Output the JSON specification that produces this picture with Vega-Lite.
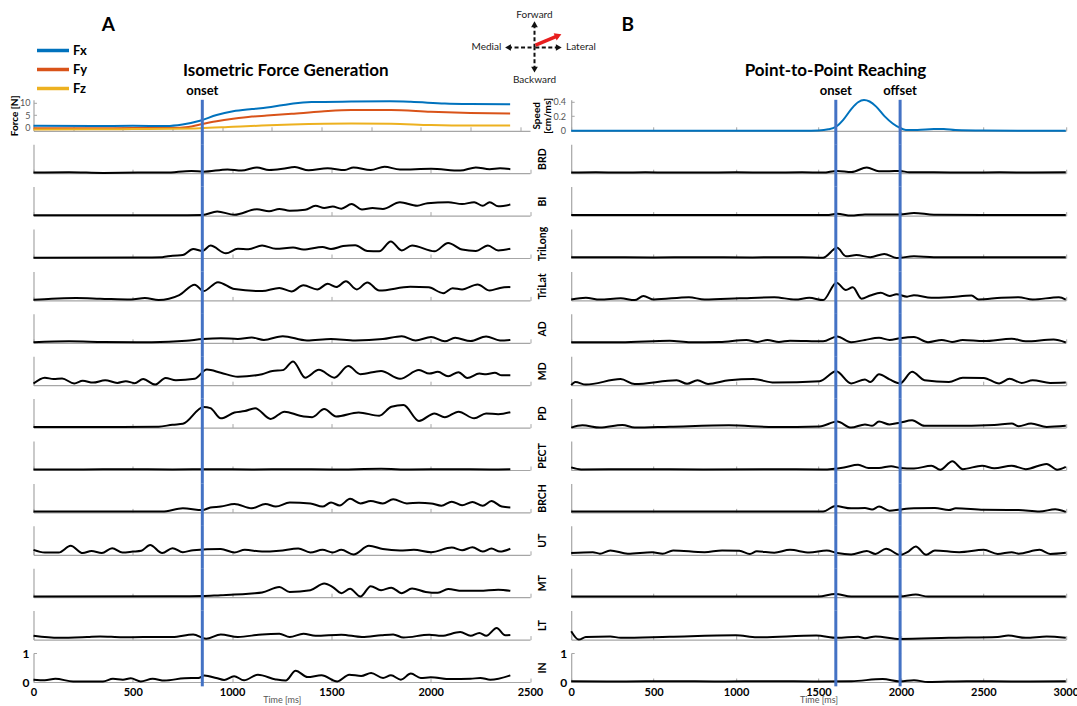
{
"$schema":"https://vega.github.io/schema/vega-lite/v6.json",
"background":"white",
"padding":{"left":9.5,"top":5,"right":0,"bottom":0},
"columns":2,
"bounds":"flush",
"spacing":{"row":13.4,"column":40.7},
"config":{"font":"Lato","view":{"stroke":null},"axis":{"grid":false,"domainColor":"#a6a6a6","tickColor":"#a6a6a6","domainWidth":1.2,"labelFont":"Lato","titleFont":"Lato","labelFlush":false,"labelOverlap":false},"title":{"font":"Lato","fontWeight":"bold","color":"#000"},"legend":{"labelFont":"Lato"}},
"datasets":{
"events":[{"s":"A","t":850,"label":"onset"},{"s":"B","t":1605,"label":"onset"},{"s":"B","t":1995,"label":"offset"}],
"arms":[{"dir":"up","x":0,"y":0.86},{"dir":"down","x":0,"y":-0.82},{"dir":"left","x":-0.98,"y":0},{"dir":"right","x":0.9,"y":0}],
"compassLabels":[{"label":"Forward","x":0,"y":1.2},{"label":"Backward","x":0,"y":-1.2},{"label":"Medial","x":-1.78,"y":0},{"label":"Lateral","x":1.72,"y":0}],
"move":[{"x":0.04,"y":0.09,"x2":0.88,"y2":0.44}],
"force":[
{"s":"Fx","t":[0,300,500,670,750,838,922,1005,1100,1175,1250,1308,1400,1600,1795,1900,2071,2200,2400],"v":[0.7,0.6,0.7,0.6,1.2,2.7,5.0,6.5,7.4,8.0,8.9,9.6,10.2,10.4,10.5,10.3,9.6,9.4,9.3]},
{"s":"Fy","t":[0,300,500,700,780,838,922,1005,1100,1175,1300,1450,1600,1800,2000,2200,2400],"v":[-0.3,-0.3,-0.2,-0.2,0.2,1.2,2.5,3.5,4.4,4.8,5.5,6.4,7.0,7.0,6.3,5.8,5.6]},
{"s":"Fz","t":[0,300,500,700,838,1005,1150,1300,1600,1800,2000,2200,2400],"v":[-0.8,-0.7,-0.6,-0.5,-0.3,0.3,0.8,1.2,1.6,1.5,1.0,0.8,0.8]}],
"speed":[{"t":[0,500,1000,1400,1500,1560,1605,1650,1700,1740,1776,1810,1850,1900,1950,1994,2030,2100,2200,2260,2330,2500,3000],"v":[0,0,0,0.002,0.005,0.02,0.055,0.15,0.3,0.39,0.42,0.4,0.33,0.2,0.1,0.04,0.012,0.012,0.025,0.025,0.01,0.003,0]}],
"emg":[
{"s":"A","m":"BRD","t":[0,179,352,526,665,795,856,977,1047,1125,1186,1255,1316,1385,1481,1568,1611,1698,1767,1845,2002,2149,2227,2297,2349,2401],"v":[0.02,0.035,0.01,0.02,0.02,0.08,0.05,0.13,0.09,0.2,0.11,0.15,0.21,0.1,0.17,0.11,0.2,0.11,0.22,0.13,0.15,0.09,0.2,0.14,0.17,0.14]},
{"s":"A","m":"BI","t":[0,352,700,851,925,1012,1125,1186,1238,1290,1368,1420,1464,1507,1550,1602,1654,1707,1759,1845,1932,1984,2088,2158,2219,2262,2297,2340,2401],"v":[0.01,0.01,0.01,0.02,0.14,0.03,0.22,0.15,0.23,0.17,0.2,0.34,0.26,0.31,0.24,0.4,0.21,0.26,0.23,0.46,0.34,0.43,0.46,0.4,0.46,0.34,0.46,0.32,0.38]},
{"s":"A","m":"TriLong","t":[0,526,648,700,752,804,851,891,969,1029,1082,1151,1220,1307,1359,1455,1498,1559,1620,1681,1741,1799,1854,1906,2019,2088,2158,2227,2288,2340,2401],"v":[0.01,0.02,0.03,0.08,0.1,0.31,0.24,0.43,0.16,0.32,0.3,0.43,0.32,0.36,0.29,0.38,0.31,0.41,0.44,0.24,0.23,0.57,0.26,0.43,0.23,0.52,0.29,0.24,0.43,0.26,0.32]},
{"s":"A","m":"TriLat","t":[0,92,214,335,491,561,630,734,812,856,929,1012,1151,1238,1299,1359,1429,1481,1524,1573,1628,1681,1741,1897,1990,2063,2110,2158,2236,2297,2349,2401],"v":[0.02,0.06,0.08,0.06,0.03,0.08,0.01,0.18,0.54,0.32,0.63,0.39,0.32,0.43,0.31,0.52,0.38,0.57,0.46,0.66,0.38,0.62,0.34,0.47,0.45,0.25,0.42,0.38,0.55,0.34,0.43,0.46]},
{"s":"A","m":"AD","t":[0,179,352,595,769,851,943,1029,1099,1160,1255,1377,1498,1620,1759,1854,1924,2002,2071,2123,2201,2279,2349,2401],"v":[0.02,0.05,0.03,0.02,0.07,0.13,0.16,0.13,0.18,0.1,0.23,0.08,0.13,0.08,0.13,0.23,0.08,0.2,0.05,0.17,0.06,0.22,0.08,0.1]},
{"s":"A","m":"MD","t":[0,57,101,144,205,248,300,361,422,465,509,552,613,665,717,812,873,943,1029,1151,1203,1255,1307,1368,1437,1515,1585,1646,1750,1845,1941,1993,2036,2088,2140,2184,2245,2279,2323,2358,2401],"v":[0.06,0.26,0.21,0.23,0.06,0.15,0.09,0.17,0.08,0.14,0.07,0.21,0.02,0.25,0.17,0.22,0.54,0.43,0.29,0.38,0.49,0.52,0.82,0.26,0.53,0.26,0.66,0.38,0.49,0.22,0.52,0.4,0.46,0.31,0.45,0.25,0.4,0.38,0.43,0.34,0.34]},
{"s":"A","m":"PD","t":[0,352,630,700,752,856,891,943,1012,1064,1116,1194,1264,1342,1403,1464,1524,1637,1741,1802,1863,1941,2019,2071,2140,2219,2279,2340,2401],"v":[0.02,0.02,0.03,0.1,0.13,0.71,0.67,0.32,0.52,0.57,0.67,0.3,0.55,0.41,0.36,0.64,0.38,0.52,0.41,0.72,0.78,0.23,0.49,0.36,0.55,0.32,0.49,0.46,0.53]},
{"s":"A","m":"PECT","t":[0,250,450,700,900,1100,1300,1500,1750,1900,2100,2300,2401],"v":[0.02,0.02,0.03,0.02,0.03,0.02,0.03,0.02,0.04,0.02,0.03,0.02,0.03]},
{"s":"A","m":"BRCH","t":[0,352,648,752,851,891,943,1012,1099,1168,1220,1290,1394,1455,1498,1542,1594,1646,1698,1759,1811,1880,1941,2002,2054,2106,2158,2210,2262,2306,2358,2401],"v":[0.03,0.03,0.03,0.14,0.08,0.17,0.2,0.29,0.14,0.29,0.2,0.34,0.31,0.2,0.34,0.24,0.47,0.31,0.39,0.31,0.45,0.31,0.33,0.31,0.23,0.37,0.25,0.36,0.23,0.39,0.2,0.17]},
{"s":"A","m":"UT","t":[0,57,127,187,248,292,344,396,448,500,543,587,648,700,752,804,943,1012,1064,1151,1238,1333,1394,1455,1507,1550,1611,1689,1759,1845,1915,2002,2106,2158,2210,2262,2306,2349,2401],"v":[0.17,0.08,0.08,0.31,0.06,0.13,0.06,0.23,0.08,0.11,0.14,0.34,0.06,0.23,0.09,0.16,0.2,0.08,0.17,0.11,0.14,0.22,0.08,0.17,0.08,0.17,0.01,0.31,0.2,0.15,0.17,0.09,0.25,0.16,0.26,0.11,0.22,0.11,0.21]},
{"s":"A","m":"MT","t":[0,700,851,943,1012,1099,1151,1238,1290,1394,1464,1507,1550,1594,1646,1698,1750,1802,1854,1906,1975,2036,2088,2158,2245,2340,2401],"v":[0.02,0.03,0.04,0.07,0.09,0.13,0.16,0.35,0.18,0.24,0.47,0.35,0.14,0.29,0.02,0.38,0.24,0.33,0.14,0.3,0.18,0.15,0.28,0.22,0.22,0.26,0.22]},
{"s":"A","m":"LT","t":[0,127,270,335,448,552,700,804,869,943,1029,1151,1238,1290,1359,1420,1550,1654,1750,1811,1863,1993,2054,2149,2201,2245,2280,2332,2375,2401],"v":[0.13,0.06,0.09,0.11,0.08,0.09,0.09,0.18,0.03,0.18,0.09,0.18,0.2,0.09,0.2,0.13,0.17,0.09,0.15,0.18,0.07,0.17,0.13,0.26,0.13,0.23,0.13,0.4,0.15,0.16]},
{"s":"A","m":"IN","t":[0,57,110,200,350,400,450,490,540,600,660,760,830,860,920,960,1010,1060,1130,1220,1270,1320,1380,1450,1530,1590,1650,1700,1760,1800,1850,1900,1950,2000,2100,2200,2250,2300,2401],"v":[0.08,0.06,0.11,0.02,0.02,0.11,0.08,0.13,0.02,0.11,0.05,0.13,0.14,0.22,0.14,0.07,0.2,0.06,0.25,0.09,0.05,0.39,0.17,0.23,0.02,0.25,0.21,0.31,0.14,0.23,0.08,0.29,0.14,0.16,0.1,0.11,0.14,0.08,0.23]},
{"s":"B","m":"BRD","t":[0,150,300,450,600,800,1000,1200,1400,1528,1613,1700,1793,1867,1930,1994,2050,2200,2400,2600,2800,3000],"v":[0.02,0.03,0.02,0.03,0.02,0.025,0.03,0.02,0.03,0.02,0.08,0.04,0.2,0.07,0.07,0.08,0.03,0.03,0.02,0.03,0.02,0.03]},
{"s":"B","m":"BI","t":[0,300,700,1000,1300,1550,1613,1698,1782,1900,1994,2079,2200,2500,3000],"v":[0.02,0.02,0.02,0.02,0.02,0.02,0.06,0.0,0.04,0.04,0.04,0.09,0.03,0.02,0.02]},
{"s":"B","m":"TriLong","t":[0,200,500,800,1100,1400,1528,1613,1666,1730,1814,1899,1973,2079,2200,2500,2800,3000],"v":[0.03,0.03,0.02,0.03,0.02,0.03,0.01,0.35,0.06,0.1,0.03,0.14,0.0,0.06,0.03,0.03,0.03,0.03]},
{"s":"B","m":"TriLat","t":[0,89,174,300,385,438,502,714,809,1020,1232,1359,1444,1528,1609,1666,1708,1761,1814,1878,1931,1973,2037,2079,2185,2291,2428,2471,2608,2714,2799,2958,3000],"v":[0.03,0.09,0.03,0.07,0.01,0.15,0.03,0.11,0.03,0.07,0.11,0.03,0.09,0.01,0.61,0.36,0.45,0.06,0.17,0.26,0.15,0.21,0.13,0.18,0.09,0.11,0.17,0.03,0.09,0.11,0.03,0.11,0.03]},
{"s":"B","m":"AD","t":[0,300,597,724,900,1063,1130,1190,1260,1327,1528,1613,1698,1782,1867,1931,1994,2079,2164,2248,2310,2375,2502,2672,2757,2926,3000],"v":[0.02,0.02,0.07,0.02,0.03,0.1,0.03,0.1,0.03,0.07,0.05,0.22,0.02,0.1,0.17,0.1,0.16,0.2,0.02,0.1,0.03,0.1,0.06,0.14,0.05,0.11,0.01]},
{"s":"B","m":"MD","t":[0,25,89,300,385,640,703,766,830,957,1105,1232,1507,1607,1698,1782,1814,1867,1931,1994,2068,2143,2291,2375,2502,2596,2659,2733,2799,2905,3000],"v":[0.0,0.11,0.02,0.21,0.04,0.17,0.05,0.17,0.04,0.17,0.21,0.09,0.14,0.48,0.06,0.2,0.11,0.38,0.2,0.06,0.46,0.17,0.11,0.26,0.25,0.06,0.22,0.08,0.17,0.08,0.09]},
{"s":"B","m":"PD","t":[0,68,174,311,385,597,957,1232,1507,1613,1698,1782,1825,1867,1931,1994,2068,2143,2291,2566,2672,2714,2789,2884,3000],"v":[0.0,0.08,0.0,0.09,0.0,0.03,0.08,0.02,0.04,0.21,0.0,0.11,0.06,0.21,0.11,0.17,0.25,0.06,0.06,0.09,0.14,0.05,0.14,0.02,0.06]},
{"s":"B","m":"PECT","t":[0,60,400,800,1200,1528,1655,1740,1803,1867,1941,1994,2079,2185,2238,2312,2375,2492,2566,2672,2757,2884,2947,3000],"v":[0.09,0.02,0.03,0.02,0.03,0.02,0.09,0.18,0.07,0.07,0.13,0.07,0.05,0.15,0.01,0.3,0.03,0.15,0.06,0.15,0.03,0.21,0.01,0.11]},
{"s":"B","m":"BRCH","t":[0,500,1000,1300,1528,1602,1698,1782,1825,1867,1931,1994,2079,2206,2291,2333,2502,2714,2841,2936,3000],"v":[0.03,0.03,0.03,0.03,0.03,0.22,0.14,0.15,0.1,0.2,0.06,0.1,0.14,0.15,0.08,0.14,0.09,0.08,0.03,0.11,0.02]},
{"s":"B","m":"UT","t":[0,131,174,237,343,491,555,618,809,915,1020,1084,1126,1232,1327,1444,1550,1613,1698,1793,1846,1910,1994,2047,2090,2153,2206,2354,2502,2587,2672,2714,2841,2905,3000],"v":[0.06,0.09,0.04,0.15,0.04,0.09,0.04,0.15,0.09,0.15,0.14,0.03,0.12,0.07,0.17,0.08,0.15,0.06,0.01,0.13,0.03,0.21,0.0,0.12,0.29,0.0,0.15,0.09,0.17,0.03,0.09,0.04,0.17,0.03,0.07]},
{"s":"B","m":"MT","t":[0,500,1000,1500,1602,1698,1994,2090,2164,2500,3000],"v":[0.02,0.02,0.02,0.02,0.11,0.02,0.02,0.09,0.02,0.02,0.02]},
{"s":"B","m":"LT","t":[0,46,89,237,300,597,999,1126,1486,1613,1740,1782,1846,1994,2291,2587,2651,2757,2884,3000],"v":[0.29,0.0,0.09,0.11,0.06,0.1,0.15,0.08,0.14,0.06,0.1,0.05,0.11,0.02,0.06,0.09,0.14,0.06,0.11,0.06]},
{"s":"B","m":"IN","t":[0,300,600,900,1200,1500,1700,1889,1994,2079,2164,2400,2700,3000],"v":[0.03,0.02,0.03,0.02,0.03,0.02,0.03,0.1,0.02,0.06,0.0,0.03,0.02,0.03]}
]},
"concat":[
{"width":496.5,"height":66.2,
 "title":{"text":"A","anchor":"start","frame":"group","dx":68.2,"fontSize":19,"offset":-45.3,"baseline":"alphabetic"},
 "encoding":{"x":{"field":"x","type":"quantitative","scale":{"domain":[-18.556,-0.1667],"nice":false,"zero":false},"axis":null},
             "y":{"field":"y","type":"quantitative","scale":{"domain":[-0.878,1.574],"nice":false,"zero":false},"axis":null}},
 "layer":[
  {"data":{"name":"arms"},"mark":{"type":"rule","color":"#111","strokeWidth":2,"strokeDash":[4,2.5]},"encoding":{"x2":{"datum":0},"y2":{"datum":0}}},
  {"data":{"name":"arms"},"mark":{"type":"point","filled":true,"color":"#111","size":45,"opacity":1},"encoding":{"shape":{"field":"dir","type":"nominal","scale":{"domain":["up","down","left","right"],"range":["triangle-up","triangle-down","triangle-left","triangle-right"]},"legend":null}}},
  {"data":{"name":"compassLabels"},"mark":{"type":"text","font":"Lato","fontSize":10,"color":"#222","baseline":"middle"},"encoding":{"text":{"field":"label"}}},
  {"data":{"name":"move"},"mark":{"type":"rule","color":"#E81E1E","strokeWidth":3.5},"encoding":{"x2":{"field":"x2"},"y2":{"field":"y2"}}},
  {"data":{"name":"move"},"mark":{"type":"point","shape":"triangle-up","angle":67.4,"filled":true,"color":"#E81E1E","size":60,"opacity":1},"encoding":{"x":{"field":"x2","type":"quantitative","scale":{"domain":[-18.556,-0.1667],"nice":false,"zero":false},"axis":null},"y":{"field":"y2","type":"quantitative","scale":{"domain":[-0.878,1.574],"nice":false,"zero":false},"axis":null}}}
 ]},
{"width":494.6,"height":66.2,"data":{"values":[]},"mark":"point",
 "title":{"text":"B","anchor":"start","frame":"group","dx":50.3,"fontSize":19,"offset":-45.3,"baseline":"alphabetic"}},
{"width":496.5,"height":1,"data":{"values":[]},"mark":"point",
 "title":{"text":"Isometric Force Generation","anchor":"middle","frame":"group","dx":4,"fontSize":17,"offset":-7.7,"baseline":"alphabetic"}},
{"width":494.6,"height":1,"data":{"values":[]},"mark":"point",
 "title":{"text":"Point-to-Point Reaching","anchor":"middle","frame":"group","dx":17,"fontSize":17,"offset":-7.7,"baseline":"alphabetic"}},
{"width":496.5,"height":31,
 "encoding":{"x":{"field":"t","type":"quantitative","scale":{"domain":[0,2500],"nice":false},"axis":{"values":[200,450,700,950,1200,1450,1700,1950,2200,2450],"labels":false,"tickSize":-4,"title":null}}},
 "layer":[
  {"data":{"name":"force"},"transform":[{"flatten":["t","v"]}],"mark":{"type":"line","interpolate":"monotone","strokeWidth":2},
   "encoding":{"y":{"field":"v","type":"quantitative","scale":{"domain":[-1.3,11.1],"nice":false,"zero":false},"axis":{"values":[0,5,10],"labelOverlap":false,"tickSize":-3,"labelPadding":6.5,"labelFontSize":9,"labelColor":"#555","title":"Force [N]","titleX":-19,"titleY":15.5,"titleAngle":-90,"titleBaseline":"middle","titleAlign":"center","titleFontSize":10,"titleFontWeight":"bold","titleColor":"#000"}},
    "color":{"field":"s","type":"nominal","scale":{"domain":["Fx","Fy","Fz"],"range":["#0072BD","#D95319","#EDB120"]},
     "legend":{"orient":"none","legendX":12.5,"legendY":38.5,"title":null,"symbolType":"M-3.2,0L3.2,0","symbolSize":100,"symbolStrokeWidth":3.5,"labelFontSize":13,"labelFontWeight":"bold","labelColor":"#000","labelOffset":13,"rowPadding":5,"padding":0}}}},
  {"data":{"name":"events"},"transform":[{"filter":"datum.s=='A'"}],"mark":{"type":"rule","color":"#4472C4","strokeWidth":3},"encoding":{"y":{"datum":11.1,"scale":{"domain":[-1.3,11.1],"nice":false,"zero":false},"axis":{"values":[0,5,10],"labelOverlap":false,"tickSize":-3,"labelPadding":6.5,"labelFontSize":9,"labelColor":"#555","title":"Force [N]","titleX":-19,"titleY":15.5,"titleAngle":-90,"titleBaseline":"middle","titleAlign":"center","titleFontSize":10,"titleFontWeight":"bold","titleColor":"#000"}},"y2":{"datum":-6.7}}},
  {"data":{"name":"events"},"transform":[{"filter":"datum.s=='A'"}],"mark":{"type":"text","font":"Lato","fontWeight":"bold","fontSize":13,"baseline":"alphabetic","dy":-5,"color":"#000"},"encoding":{"y":{"datum":11.1,"scale":{"domain":[-1.3,11.1],"nice":false,"zero":false},"axis":{"values":[0,5,10],"labelOverlap":false,"tickSize":-3,"labelPadding":6.5,"labelFontSize":9,"labelColor":"#555","title":"Force [N]","titleX":-19,"titleY":15.5,"titleAngle":-90,"titleBaseline":"middle","titleAlign":"center","titleFontSize":10,"titleFontWeight":"bold","titleColor":"#000"}},"text":{"field":"label"}}}
 ]},
{"width":494.6,"height":31,
 "encoding":{"x":{"field":"t","type":"quantitative","scale":{"domain":[0,3000],"nice":false},"axis":{"values":[0,500,1000,1500,2000,2500,3000],"labels":false,"tickSize":-4,"title":null}}},
 "layer":[
  {"data":{"name":"speed"},"transform":[{"flatten":["t","v"]}],"mark":{"type":"line","interpolate":"monotone","color":"#0072BD","strokeWidth":2},
   "encoding":{"y":{"field":"v","type":"quantitative","scale":{"domain":[0,0.423],"nice":false,"zero":false},"axis":{"values":[0,0.2,0.4],"format":"~g","labelOverlap":false,"tickSize":-3,"labelPadding":8.7,"labelFontSize":9,"labelColor":"#555","title":["Speed","[cm/ms]"],"titleX":-34.5,"titleY":15.5,"titleAngle":-90,"titleBaseline":"middle","titleAlign":"center","titleFontSize":10,"titleFontWeight":"bold","titleColor":"#000","titleLineHeight":11}}}},
  {"data":{"name":"events"},"transform":[{"filter":"datum.s=='B'"}],"mark":{"type":"rule","color":"#4472C4","strokeWidth":3},"encoding":{"y":{"datum":0.423,"scale":{"domain":[0,0.423],"nice":false,"zero":false},"axis":{"values":[0,0.2,0.4],"format":"~g","labelOverlap":false,"tickSize":-3,"labelPadding":8.7,"labelFontSize":9,"labelColor":"#555","title":["Speed","[cm/ms]"],"titleX":-34.5,"titleY":15.5,"titleAngle":-90,"titleBaseline":"middle","titleAlign":"center","titleFontSize":10,"titleFontWeight":"bold","titleColor":"#000","titleLineHeight":11}},"y2":{"datum":-0.185}}},
  {"data":{"name":"events"},"transform":[{"filter":"datum.s=='B'"}],"mark":{"type":"text","font":"Lato","fontWeight":"bold","fontSize":13,"baseline":"alphabetic","dy":-5,"color":"#000"},"encoding":{"y":{"datum":0.423,"scale":{"domain":[0,0.423],"nice":false,"zero":false},"axis":{"values":[0,0.2,0.4],"format":"~g","labelOverlap":false,"tickSize":-3,"labelPadding":8.7,"labelFontSize":9,"labelColor":"#555","title":["Speed","[cm/ms]"],"titleX":-34.5,"titleY":15.5,"titleAngle":-90,"titleBaseline":"middle","titleAlign":"center","titleFontSize":10,"titleFontWeight":"bold","titleColor":"#000","titleLineHeight":11}},"text":{"field":"label"}}}
 ]},
{"width":496.5,"height":29,"encoding":{"x":{"field":"t","type":"quantitative","scale":{"domain":[0,2500],"nice":false},"axis":{"values":[0,500,1000,1500,2000,2500],"labels":false,"tickSize":-4,"title":null}}},"layer":[{"data":{"name":"emg"},"transform":[{"filter":"datum.s=='A'&&datum.m=='BRD'"},{"flatten":["t","v"]}],"mark":{"type":"line","interpolate":"monotone","color":"#000","strokeWidth":2},"encoding":{"y":{"field":"v","type":"quantitative","scale":{"domain":[0,1],"nice":false},"axis":{"labels":false,"ticks":false,"title":null}}}},{"data":{"name":"events"},"transform":[{"filter":"datum.s=='A'"}],"mark":{"type":"rule","color":"#4472C4","strokeWidth":3},"encoding":{"y":{"datum":1},"y2":{"datum":-0.465}}}]},
{"width":494.6,"height":29,"encoding":{"x":{"field":"t","type":"quantitative","scale":{"domain":[0,3000],"nice":false},"axis":{"values":[0,500,1000,1500,2000,2500,3000],"labels":false,"tickSize":-4,"title":null}}},"layer":[{"data":{"name":"emg"},"transform":[{"filter":"datum.s=='B'&&datum.m=='BRD'"},{"flatten":["t","v"]}],"mark":{"type":"line","interpolate":"monotone","color":"#000","strokeWidth":2},"encoding":{"y":{"field":"v","type":"quantitative","scale":{"domain":[0,1],"nice":false},"axis":{"labels":false,"ticks":false,"title":"BRD","titleX":-29,"titleY":14.5,"titleAngle":-90,"titleBaseline":"middle","titleAlign":"center","titleFontSize":10.5,"titleFontWeight":"bold","titleColor":"#000"}}}},{"data":{"name":"events"},"transform":[{"filter":"datum.s=='B'"}],"mark":{"type":"rule","color":"#4472C4","strokeWidth":3},"encoding":{"y":{"datum":1},"y2":{"datum":-0.465}}}]},
{"width":496.5,"height":29,"encoding":{"x":{"field":"t","type":"quantitative","scale":{"domain":[0,2500],"nice":false},"axis":{"values":[0,500,1000,1500,2000,2500],"labels":false,"tickSize":-4,"title":null}}},"layer":[{"data":{"name":"emg"},"transform":[{"filter":"datum.s=='A'&&datum.m=='BI'"},{"flatten":["t","v"]}],"mark":{"type":"line","interpolate":"monotone","color":"#000","strokeWidth":2},"encoding":{"y":{"field":"v","type":"quantitative","scale":{"domain":[0,1],"nice":false},"axis":{"labels":false,"ticks":false,"title":null}}}},{"data":{"name":"events"},"transform":[{"filter":"datum.s=='A'"}],"mark":{"type":"rule","color":"#4472C4","strokeWidth":3},"encoding":{"y":{"datum":1},"y2":{"datum":-0.465}}}]},
{"width":494.6,"height":29,"encoding":{"x":{"field":"t","type":"quantitative","scale":{"domain":[0,3000],"nice":false},"axis":{"values":[0,500,1000,1500,2000,2500,3000],"labels":false,"tickSize":-4,"title":null}}},"layer":[{"data":{"name":"emg"},"transform":[{"filter":"datum.s=='B'&&datum.m=='BI'"},{"flatten":["t","v"]}],"mark":{"type":"line","interpolate":"monotone","color":"#000","strokeWidth":2},"encoding":{"y":{"field":"v","type":"quantitative","scale":{"domain":[0,1],"nice":false},"axis":{"labels":false,"ticks":false,"title":"BI","titleX":-29,"titleY":14.5,"titleAngle":-90,"titleBaseline":"middle","titleAlign":"center","titleFontSize":10.5,"titleFontWeight":"bold","titleColor":"#000"}}}},{"data":{"name":"events"},"transform":[{"filter":"datum.s=='B'"}],"mark":{"type":"rule","color":"#4472C4","strokeWidth":3},"encoding":{"y":{"datum":1},"y2":{"datum":-0.465}}}]},
{"width":496.5,"height":29,"encoding":{"x":{"field":"t","type":"quantitative","scale":{"domain":[0,2500],"nice":false},"axis":{"values":[0,500,1000,1500,2000,2500],"labels":false,"tickSize":-4,"title":null}}},"layer":[{"data":{"name":"emg"},"transform":[{"filter":"datum.s=='A'&&datum.m=='TriLong'"},{"flatten":["t","v"]}],"mark":{"type":"line","interpolate":"monotone","color":"#000","strokeWidth":2},"encoding":{"y":{"field":"v","type":"quantitative","scale":{"domain":[0,1],"nice":false},"axis":{"labels":false,"ticks":false,"title":null}}}},{"data":{"name":"events"},"transform":[{"filter":"datum.s=='A'"}],"mark":{"type":"rule","color":"#4472C4","strokeWidth":3},"encoding":{"y":{"datum":1},"y2":{"datum":-0.465}}}]},
{"width":494.6,"height":29,"encoding":{"x":{"field":"t","type":"quantitative","scale":{"domain":[0,3000],"nice":false},"axis":{"values":[0,500,1000,1500,2000,2500,3000],"labels":false,"tickSize":-4,"title":null}}},"layer":[{"data":{"name":"emg"},"transform":[{"filter":"datum.s=='B'&&datum.m=='TriLong'"},{"flatten":["t","v"]}],"mark":{"type":"line","interpolate":"monotone","color":"#000","strokeWidth":2},"encoding":{"y":{"field":"v","type":"quantitative","scale":{"domain":[0,1],"nice":false},"axis":{"labels":false,"ticks":false,"title":"TriLong","titleX":-29,"titleY":14.5,"titleAngle":-90,"titleBaseline":"middle","titleAlign":"center","titleFontSize":10.5,"titleFontWeight":"bold","titleColor":"#000"}}}},{"data":{"name":"events"},"transform":[{"filter":"datum.s=='B'"}],"mark":{"type":"rule","color":"#4472C4","strokeWidth":3},"encoding":{"y":{"datum":1},"y2":{"datum":-0.465}}}]},
{"width":496.5,"height":29,"encoding":{"x":{"field":"t","type":"quantitative","scale":{"domain":[0,2500],"nice":false},"axis":{"values":[0,500,1000,1500,2000,2500],"labels":false,"tickSize":-4,"title":null}}},"layer":[{"data":{"name":"emg"},"transform":[{"filter":"datum.s=='A'&&datum.m=='TriLat'"},{"flatten":["t","v"]}],"mark":{"type":"line","interpolate":"monotone","color":"#000","strokeWidth":2},"encoding":{"y":{"field":"v","type":"quantitative","scale":{"domain":[0,1],"nice":false},"axis":{"labels":false,"ticks":false,"title":null}}}},{"data":{"name":"events"},"transform":[{"filter":"datum.s=='A'"}],"mark":{"type":"rule","color":"#4472C4","strokeWidth":3},"encoding":{"y":{"datum":1},"y2":{"datum":-0.465}}}]},
{"width":494.6,"height":29,"encoding":{"x":{"field":"t","type":"quantitative","scale":{"domain":[0,3000],"nice":false},"axis":{"values":[0,500,1000,1500,2000,2500,3000],"labels":false,"tickSize":-4,"title":null}}},"layer":[{"data":{"name":"emg"},"transform":[{"filter":"datum.s=='B'&&datum.m=='TriLat'"},{"flatten":["t","v"]}],"mark":{"type":"line","interpolate":"monotone","color":"#000","strokeWidth":2},"encoding":{"y":{"field":"v","type":"quantitative","scale":{"domain":[0,1],"nice":false},"axis":{"labels":false,"ticks":false,"title":"TriLat","titleX":-29,"titleY":14.5,"titleAngle":-90,"titleBaseline":"middle","titleAlign":"center","titleFontSize":10.5,"titleFontWeight":"bold","titleColor":"#000"}}}},{"data":{"name":"events"},"transform":[{"filter":"datum.s=='B'"}],"mark":{"type":"rule","color":"#4472C4","strokeWidth":3},"encoding":{"y":{"datum":1},"y2":{"datum":-0.465}}}]},
{"width":496.5,"height":29,"encoding":{"x":{"field":"t","type":"quantitative","scale":{"domain":[0,2500],"nice":false},"axis":{"values":[0,500,1000,1500,2000,2500],"labels":false,"tickSize":-4,"title":null}}},"layer":[{"data":{"name":"emg"},"transform":[{"filter":"datum.s=='A'&&datum.m=='AD'"},{"flatten":["t","v"]}],"mark":{"type":"line","interpolate":"monotone","color":"#000","strokeWidth":2},"encoding":{"y":{"field":"v","type":"quantitative","scale":{"domain":[0,1],"nice":false},"axis":{"labels":false,"ticks":false,"title":null}}}},{"data":{"name":"events"},"transform":[{"filter":"datum.s=='A'"}],"mark":{"type":"rule","color":"#4472C4","strokeWidth":3},"encoding":{"y":{"datum":1},"y2":{"datum":-0.465}}}]},
{"width":494.6,"height":29,"encoding":{"x":{"field":"t","type":"quantitative","scale":{"domain":[0,3000],"nice":false},"axis":{"values":[0,500,1000,1500,2000,2500,3000],"labels":false,"tickSize":-4,"title":null}}},"layer":[{"data":{"name":"emg"},"transform":[{"filter":"datum.s=='B'&&datum.m=='AD'"},{"flatten":["t","v"]}],"mark":{"type":"line","interpolate":"monotone","color":"#000","strokeWidth":2},"encoding":{"y":{"field":"v","type":"quantitative","scale":{"domain":[0,1],"nice":false},"axis":{"labels":false,"ticks":false,"title":"AD","titleX":-29,"titleY":14.5,"titleAngle":-90,"titleBaseline":"middle","titleAlign":"center","titleFontSize":10.5,"titleFontWeight":"bold","titleColor":"#000"}}}},{"data":{"name":"events"},"transform":[{"filter":"datum.s=='B'"}],"mark":{"type":"rule","color":"#4472C4","strokeWidth":3},"encoding":{"y":{"datum":1},"y2":{"datum":-0.465}}}]},
{"width":496.5,"height":29,"encoding":{"x":{"field":"t","type":"quantitative","scale":{"domain":[0,2500],"nice":false},"axis":{"values":[0,500,1000,1500,2000,2500],"labels":false,"tickSize":-4,"title":null}}},"layer":[{"data":{"name":"emg"},"transform":[{"filter":"datum.s=='A'&&datum.m=='MD'"},{"flatten":["t","v"]}],"mark":{"type":"line","interpolate":"monotone","color":"#000","strokeWidth":2},"encoding":{"y":{"field":"v","type":"quantitative","scale":{"domain":[0,1],"nice":false},"axis":{"labels":false,"ticks":false,"title":null}}}},{"data":{"name":"events"},"transform":[{"filter":"datum.s=='A'"}],"mark":{"type":"rule","color":"#4472C4","strokeWidth":3},"encoding":{"y":{"datum":1},"y2":{"datum":-0.465}}}]},
{"width":494.6,"height":29,"encoding":{"x":{"field":"t","type":"quantitative","scale":{"domain":[0,3000],"nice":false},"axis":{"values":[0,500,1000,1500,2000,2500,3000],"labels":false,"tickSize":-4,"title":null}}},"layer":[{"data":{"name":"emg"},"transform":[{"filter":"datum.s=='B'&&datum.m=='MD'"},{"flatten":["t","v"]}],"mark":{"type":"line","interpolate":"monotone","color":"#000","strokeWidth":2},"encoding":{"y":{"field":"v","type":"quantitative","scale":{"domain":[0,1],"nice":false},"axis":{"labels":false,"ticks":false,"title":"MD","titleX":-29,"titleY":14.5,"titleAngle":-90,"titleBaseline":"middle","titleAlign":"center","titleFontSize":10.5,"titleFontWeight":"bold","titleColor":"#000"}}}},{"data":{"name":"events"},"transform":[{"filter":"datum.s=='B'"}],"mark":{"type":"rule","color":"#4472C4","strokeWidth":3},"encoding":{"y":{"datum":1},"y2":{"datum":-0.465}}}]},
{"width":496.5,"height":29,"encoding":{"x":{"field":"t","type":"quantitative","scale":{"domain":[0,2500],"nice":false},"axis":{"values":[0,500,1000,1500,2000,2500],"labels":false,"tickSize":-4,"title":null}}},"layer":[{"data":{"name":"emg"},"transform":[{"filter":"datum.s=='A'&&datum.m=='PD'"},{"flatten":["t","v"]}],"mark":{"type":"line","interpolate":"monotone","color":"#000","strokeWidth":2},"encoding":{"y":{"field":"v","type":"quantitative","scale":{"domain":[0,1],"nice":false},"axis":{"labels":false,"ticks":false,"title":null}}}},{"data":{"name":"events"},"transform":[{"filter":"datum.s=='A'"}],"mark":{"type":"rule","color":"#4472C4","strokeWidth":3},"encoding":{"y":{"datum":1},"y2":{"datum":-0.465}}}]},
{"width":494.6,"height":29,"encoding":{"x":{"field":"t","type":"quantitative","scale":{"domain":[0,3000],"nice":false},"axis":{"values":[0,500,1000,1500,2000,2500,3000],"labels":false,"tickSize":-4,"title":null}}},"layer":[{"data":{"name":"emg"},"transform":[{"filter":"datum.s=='B'&&datum.m=='PD'"},{"flatten":["t","v"]}],"mark":{"type":"line","interpolate":"monotone","color":"#000","strokeWidth":2},"encoding":{"y":{"field":"v","type":"quantitative","scale":{"domain":[0,1],"nice":false},"axis":{"labels":false,"ticks":false,"title":"PD","titleX":-29,"titleY":14.5,"titleAngle":-90,"titleBaseline":"middle","titleAlign":"center","titleFontSize":10.5,"titleFontWeight":"bold","titleColor":"#000"}}}},{"data":{"name":"events"},"transform":[{"filter":"datum.s=='B'"}],"mark":{"type":"rule","color":"#4472C4","strokeWidth":3},"encoding":{"y":{"datum":1},"y2":{"datum":-0.465}}}]},
{"width":496.5,"height":29,"encoding":{"x":{"field":"t","type":"quantitative","scale":{"domain":[0,2500],"nice":false},"axis":{"values":[0,500,1000,1500,2000,2500],"labels":false,"tickSize":-4,"title":null}}},"layer":[{"data":{"name":"emg"},"transform":[{"filter":"datum.s=='A'&&datum.m=='PECT'"},{"flatten":["t","v"]}],"mark":{"type":"line","interpolate":"monotone","color":"#000","strokeWidth":2},"encoding":{"y":{"field":"v","type":"quantitative","scale":{"domain":[0,1],"nice":false},"axis":{"labels":false,"ticks":false,"title":null}}}},{"data":{"name":"events"},"transform":[{"filter":"datum.s=='A'"}],"mark":{"type":"rule","color":"#4472C4","strokeWidth":3},"encoding":{"y":{"datum":1},"y2":{"datum":-0.465}}}]},
{"width":494.6,"height":29,"encoding":{"x":{"field":"t","type":"quantitative","scale":{"domain":[0,3000],"nice":false},"axis":{"values":[0,500,1000,1500,2000,2500,3000],"labels":false,"tickSize":-4,"title":null}}},"layer":[{"data":{"name":"emg"},"transform":[{"filter":"datum.s=='B'&&datum.m=='PECT'"},{"flatten":["t","v"]}],"mark":{"type":"line","interpolate":"monotone","color":"#000","strokeWidth":2},"encoding":{"y":{"field":"v","type":"quantitative","scale":{"domain":[0,1],"nice":false},"axis":{"labels":false,"ticks":false,"title":"PECT","titleX":-29,"titleY":14.5,"titleAngle":-90,"titleBaseline":"middle","titleAlign":"center","titleFontSize":10.5,"titleFontWeight":"bold","titleColor":"#000"}}}},{"data":{"name":"events"},"transform":[{"filter":"datum.s=='B'"}],"mark":{"type":"rule","color":"#4472C4","strokeWidth":3},"encoding":{"y":{"datum":1},"y2":{"datum":-0.465}}}]},
{"width":496.5,"height":29,"encoding":{"x":{"field":"t","type":"quantitative","scale":{"domain":[0,2500],"nice":false},"axis":{"values":[0,500,1000,1500,2000,2500],"labels":false,"tickSize":-4,"title":null}}},"layer":[{"data":{"name":"emg"},"transform":[{"filter":"datum.s=='A'&&datum.m=='BRCH'"},{"flatten":["t","v"]}],"mark":{"type":"line","interpolate":"monotone","color":"#000","strokeWidth":2},"encoding":{"y":{"field":"v","type":"quantitative","scale":{"domain":[0,1],"nice":false},"axis":{"labels":false,"ticks":false,"title":null}}}},{"data":{"name":"events"},"transform":[{"filter":"datum.s=='A'"}],"mark":{"type":"rule","color":"#4472C4","strokeWidth":3},"encoding":{"y":{"datum":1},"y2":{"datum":-0.465}}}]},
{"width":494.6,"height":29,"encoding":{"x":{"field":"t","type":"quantitative","scale":{"domain":[0,3000],"nice":false},"axis":{"values":[0,500,1000,1500,2000,2500,3000],"labels":false,"tickSize":-4,"title":null}}},"layer":[{"data":{"name":"emg"},"transform":[{"filter":"datum.s=='B'&&datum.m=='BRCH'"},{"flatten":["t","v"]}],"mark":{"type":"line","interpolate":"monotone","color":"#000","strokeWidth":2},"encoding":{"y":{"field":"v","type":"quantitative","scale":{"domain":[0,1],"nice":false},"axis":{"labels":false,"ticks":false,"title":"BRCH","titleX":-29,"titleY":14.5,"titleAngle":-90,"titleBaseline":"middle","titleAlign":"center","titleFontSize":10.5,"titleFontWeight":"bold","titleColor":"#000"}}}},{"data":{"name":"events"},"transform":[{"filter":"datum.s=='B'"}],"mark":{"type":"rule","color":"#4472C4","strokeWidth":3},"encoding":{"y":{"datum":1},"y2":{"datum":-0.465}}}]},
{"width":496.5,"height":29,"encoding":{"x":{"field":"t","type":"quantitative","scale":{"domain":[0,2500],"nice":false},"axis":{"values":[0,500,1000,1500,2000,2500],"labels":false,"tickSize":-4,"title":null}}},"layer":[{"data":{"name":"emg"},"transform":[{"filter":"datum.s=='A'&&datum.m=='UT'"},{"flatten":["t","v"]}],"mark":{"type":"line","interpolate":"monotone","color":"#000","strokeWidth":2},"encoding":{"y":{"field":"v","type":"quantitative","scale":{"domain":[0,1],"nice":false},"axis":{"labels":false,"ticks":false,"title":null}}}},{"data":{"name":"events"},"transform":[{"filter":"datum.s=='A'"}],"mark":{"type":"rule","color":"#4472C4","strokeWidth":3},"encoding":{"y":{"datum":1},"y2":{"datum":-0.465}}}]},
{"width":494.6,"height":29,"encoding":{"x":{"field":"t","type":"quantitative","scale":{"domain":[0,3000],"nice":false},"axis":{"values":[0,500,1000,1500,2000,2500,3000],"labels":false,"tickSize":-4,"title":null}}},"layer":[{"data":{"name":"emg"},"transform":[{"filter":"datum.s=='B'&&datum.m=='UT'"},{"flatten":["t","v"]}],"mark":{"type":"line","interpolate":"monotone","color":"#000","strokeWidth":2},"encoding":{"y":{"field":"v","type":"quantitative","scale":{"domain":[0,1],"nice":false},"axis":{"labels":false,"ticks":false,"title":"UT","titleX":-29,"titleY":14.5,"titleAngle":-90,"titleBaseline":"middle","titleAlign":"center","titleFontSize":10.5,"titleFontWeight":"bold","titleColor":"#000"}}}},{"data":{"name":"events"},"transform":[{"filter":"datum.s=='B'"}],"mark":{"type":"rule","color":"#4472C4","strokeWidth":3},"encoding":{"y":{"datum":1},"y2":{"datum":-0.465}}}]},
{"width":496.5,"height":29,"encoding":{"x":{"field":"t","type":"quantitative","scale":{"domain":[0,2500],"nice":false},"axis":{"values":[0,500,1000,1500,2000,2500],"labels":false,"tickSize":-4,"title":null}}},"layer":[{"data":{"name":"emg"},"transform":[{"filter":"datum.s=='A'&&datum.m=='MT'"},{"flatten":["t","v"]}],"mark":{"type":"line","interpolate":"monotone","color":"#000","strokeWidth":2},"encoding":{"y":{"field":"v","type":"quantitative","scale":{"domain":[0,1],"nice":false},"axis":{"labels":false,"ticks":false,"title":null}}}},{"data":{"name":"events"},"transform":[{"filter":"datum.s=='A'"}],"mark":{"type":"rule","color":"#4472C4","strokeWidth":3},"encoding":{"y":{"datum":1},"y2":{"datum":-0.465}}}]},
{"width":494.6,"height":29,"encoding":{"x":{"field":"t","type":"quantitative","scale":{"domain":[0,3000],"nice":false},"axis":{"values":[0,500,1000,1500,2000,2500,3000],"labels":false,"tickSize":-4,"title":null}}},"layer":[{"data":{"name":"emg"},"transform":[{"filter":"datum.s=='B'&&datum.m=='MT'"},{"flatten":["t","v"]}],"mark":{"type":"line","interpolate":"monotone","color":"#000","strokeWidth":2},"encoding":{"y":{"field":"v","type":"quantitative","scale":{"domain":[0,1],"nice":false},"axis":{"labels":false,"ticks":false,"title":"MT","titleX":-29,"titleY":14.5,"titleAngle":-90,"titleBaseline":"middle","titleAlign":"center","titleFontSize":10.5,"titleFontWeight":"bold","titleColor":"#000"}}}},{"data":{"name":"events"},"transform":[{"filter":"datum.s=='B'"}],"mark":{"type":"rule","color":"#4472C4","strokeWidth":3},"encoding":{"y":{"datum":1},"y2":{"datum":-0.465}}}]},
{"width":496.5,"height":29,"encoding":{"x":{"field":"t","type":"quantitative","scale":{"domain":[0,2500],"nice":false},"axis":{"values":[0,500,1000,1500,2000,2500],"labels":false,"tickSize":-4,"title":null}}},"layer":[{"data":{"name":"emg"},"transform":[{"filter":"datum.s=='A'&&datum.m=='LT'"},{"flatten":["t","v"]}],"mark":{"type":"line","interpolate":"monotone","color":"#000","strokeWidth":2},"encoding":{"y":{"field":"v","type":"quantitative","scale":{"domain":[0,1],"nice":false},"axis":{"labels":false,"ticks":false,"title":null}}}},{"data":{"name":"events"},"transform":[{"filter":"datum.s=='A'"}],"mark":{"type":"rule","color":"#4472C4","strokeWidth":3},"encoding":{"y":{"datum":1},"y2":{"datum":-0.465}}}]},
{"width":494.6,"height":29,"encoding":{"x":{"field":"t","type":"quantitative","scale":{"domain":[0,3000],"nice":false},"axis":{"values":[0,500,1000,1500,2000,2500,3000],"labels":false,"tickSize":-4,"title":null}}},"layer":[{"data":{"name":"emg"},"transform":[{"filter":"datum.s=='B'&&datum.m=='LT'"},{"flatten":["t","v"]}],"mark":{"type":"line","interpolate":"monotone","color":"#000","strokeWidth":2},"encoding":{"y":{"field":"v","type":"quantitative","scale":{"domain":[0,1],"nice":false},"axis":{"labels":false,"ticks":false,"title":"LT","titleX":-29,"titleY":14.5,"titleAngle":-90,"titleBaseline":"middle","titleAlign":"center","titleFontSize":10.5,"titleFontWeight":"bold","titleColor":"#000"}}}},{"data":{"name":"events"},"transform":[{"filter":"datum.s=='B'"}],"mark":{"type":"rule","color":"#4472C4","strokeWidth":3},"encoding":{"y":{"datum":1},"y2":{"datum":-0.465}}}]},
{"width":496.5,"height":29,"encoding":{"x":{"field":"t","type":"quantitative","scale":{"domain":[0,2500],"nice":false},"axis":{"values":[0,500,1000,1500,2000,2500],"format":"d","tickSize":-4,"labelPadding":8.5,"labelFontSize":11,"labelFontWeight":"bold","labelColor":"#000","labelFlush":false,"title":"Time [ms]","titleFontSize":9,"titleFontWeight":"normal","titleColor":"#555","titlePadding":-2}}},"layer":[{"data":{"name":"emg"},"transform":[{"filter":"datum.s=='A'&&datum.m=='IN'"},{"flatten":["t","v"]}],"mark":{"type":"line","interpolate":"monotone","color":"#000","strokeWidth":2},"encoding":{"y":{"field":"v","type":"quantitative","scale":{"domain":[0,1],"nice":false},"axis":{"values":[0,1],"tickSize":-3,"labelPadding":7.5,"labelFontSize":12,"labelFontWeight":"bold","labelColor":"#000","title":null}}}},{"data":{"name":"events"},"transform":[{"filter":"datum.s=='A'"}],"mark":{"type":"rule","color":"#4472C4","strokeWidth":3},"encoding":{"y":{"datum":1},"y2":{"datum":-0.15}}}]},
{"width":494.6,"height":29,"encoding":{"x":{"field":"t","type":"quantitative","scale":{"domain":[0,3000],"nice":false},"axis":{"values":[0,500,1000,1500,2000,2500,3000],"format":"d","tickSize":-4,"labelPadding":8.5,"labelFontSize":11,"labelFontWeight":"bold","labelColor":"#000","labelFlush":false,"title":"Time [ms]","titleFontSize":9,"titleFontWeight":"normal","titleColor":"#555","titlePadding":-2}}},"layer":[{"data":{"name":"emg"},"transform":[{"filter":"datum.s=='B'&&datum.m=='IN'"},{"flatten":["t","v"]}],"mark":{"type":"line","interpolate":"monotone","color":"#000","strokeWidth":2},"encoding":{"y":{"field":"v","type":"quantitative","scale":{"domain":[0,1],"nice":false},"axis":{"values":[0,1],"tickSize":-3,"labelPadding":7.5,"labelFontSize":12,"labelFontWeight":"bold","labelColor":"#000","title":"IN","titleX":-29,"titleY":14.5,"titleAngle":-90,"titleBaseline":"middle","titleAlign":"center","titleFontSize":10.5,"titleFontWeight":"bold","titleColor":"#000"}}}},{"data":{"name":"events"},"transform":[{"filter":"datum.s=='B'"}],"mark":{"type":"rule","color":"#4472C4","strokeWidth":3},"encoding":{"y":{"datum":1},"y2":{"datum":-0.15}}}]}
]
}
